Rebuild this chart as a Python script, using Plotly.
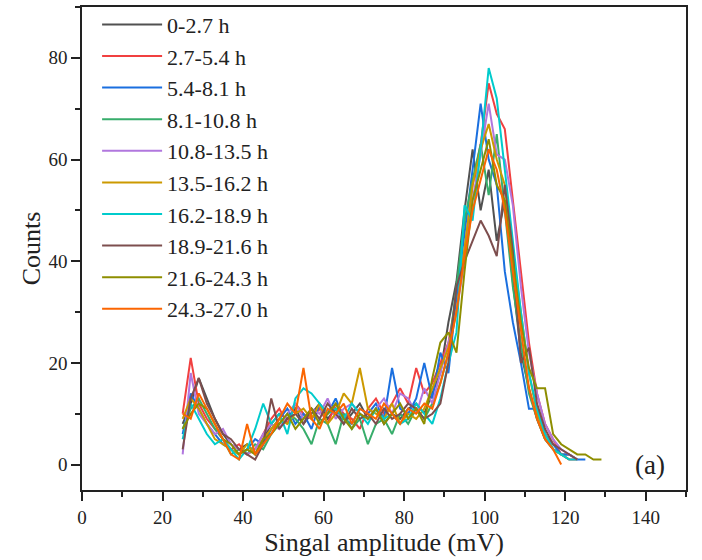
import plotly.graph_objects as go

X = [25 + 2 * i for i in range(53)]

labels = ["0-2.7 h", "2.7-5.4 h", "5.4-8.1 h", "8.1-10.8 h", "10.8-13.5 h",
          "13.5-16.2 h", "16.2-18.9 h", "18.9-21.6 h", "21.6-24.3 h", "24.3-27.0 h"]
colors = ["#515151", "#F14040", "#1A6FDF", "#37AD6B", "#B177DE",
          "#CC9900", "#00CBCC", "#7D4E4E", "#8E8E00", "#FB6501"]

s0 = [8, 12, 17, 13, 9, 6, 4, 3, 4, 2, 5, 8, 10, 9, 11, 8, 10, 12, 9, 11, 8, 10, 12, 9, 11, 8, 10, 9, 11, 12, 10, 14,
      18, 28, 36, 50, 62, 50, 58, 44, 52, 36, 22, 15, 9, 5, 3, 2, 2, 1]
s1 = [10, 21, 12, 9, 7, 5, 3, 4, 2, 3, 6, 9, 11, 8, 12, 10, 9, 11, 8, 12, 10, 9, 7, 11, 13, 10, 12, 15, 12, 19, 14, 16,
      20, 24, 33, 42, 55, 63, 75, 69, 66, 52, 38, 24, 14, 8, 5, 2, 1, 1]
s2 = [6, 14, 11, 8, 6, 4, 3, 2, 3, 5, 4, 7, 9, 11, 8, 10, 7, 12, 10, 13, 9, 8, 11, 10, 12, 9, 19, 11, 10, 13, 20, 13,
      22, 18, 33, 45, 58, 71, 60, 55, 38, 28, 20, 11, 11, 6, 4, 2, 2, 1, 1]
s3 = [7, 11, 13, 10, 7, 5, 2, 3, 2, 4, 3, 6, 8, 10, 9, 7, 4, 9, 8, 4, 10, 7, 9, 4, 8, 9, 6, 10, 8, 11, 9, 12,
      16, 22, 35, 48, 56, 63, 53, 65, 50, 35, 24, 14, 9, 5, 3, 2, 1]
s4 = [2, 18, 10, 8, 6, 7, 4, 3, 2, 3, 6, 8, 7, 10, 12, 9, 11, 10, 13, 9, 11, 12, 10, 9, 11, 13, 10, 14, 13, 10, 15, 12,
      18, 24, 30, 40, 52, 61, 71, 61, 60, 51, 35, 22, 14, 8, 5, 3, 2, 1]
s5 = [9, 13, 11, 8, 5, 4, 3, 2, 4, 2, 5, 7, 9, 8, 10, 11, 9, 12, 8, 10, 14, 12, 19, 11, 10, 9, 12, 8, 10, 9, 11, 15,
      19, 23, 30, 42, 55, 62, 67, 60, 55, 42, 30, 18, 10, 6, 3, 2, 1]
s6 = [5, 12, 9, 6, 4, 5, 3, 1, 3, 7, 12, 8, 10, 6, 13, 15, 14, 12, 10, 11, 9, 12, 10, 8, 11, 9, 10, 8, 9, 12, 10, 8,
      13, 20, 26, 51, 48, 62, 78, 72, 58, 44, 30, 18, 11, 6, 3, 2, 1, 1]
s7 = [3, 13, 17, 12, 9, 6, 5, 3, 2, 1, 4, 13, 7, 9, 10, 8, 11, 9, 12, 10, 8, 11, 9, 10, 8, 11, 9, 10, 12, 11, 9, 10,
      12, 20, 35, 40, 44, 48, 45, 41, 55, 42, 20, 23, 12, 7, 4, 3, 2, 1]
s8 = [7, 10, 12, 11, 8, 5, 4, 2, 3, 2, 5, 6, 8, 10, 7, 9, 11, 8, 10, 12, 9, 7, 10, 9, 11, 8, 10, 12, 9, 11, 8, 17,
      24, 26, 22, 38, 52, 58, 64, 55, 52, 40, 28, 19, 15, 15, 6, 4, 3, 2, 2, 1, 1]
s9 = [10, 9, 14, 11, 8, 5, 2, 1, 8, 2, 4, 6, 9, 12, 10, 19, 9, 7, 11, 10, 12, 8, 11, 10, 9, 12, 10, 8, 11, 10, 12, 11,
      16, 22, 30, 41, 50, 56, 62, 58, 50, 38, 26, 15, 9, 5, 3, 0]
series = [s0, s1, s2, s3, s4, s5, s6, s7, s8, s9]

FONT = "Liberation Serif, Times New Roman, serif"

fig = go.Figure()
for name, col, ys in zip(labels, colors, series):
    fig.add_trace(go.Scatter(x=X[:len(ys)], y=ys, mode="lines", name=name,
                             line=dict(color=col, width=2)))

axis_common = dict(showgrid=False, zeroline=False, showline=True, linecolor="#222",
                   linewidth=1.5, mirror=True, ticks="outside", ticklen=9, tickwidth=1.5,
                   tickcolor="#222", tickfont=dict(family=FONT, size=19, color="#222"),
                   minor=dict(ticks="outside", ticklen=5, tickwidth=1.5, tickcolor="#222"))

fig.update_layout(
    width=702, height=560,
    margin=dict(l=82, r=16, t=4, b=70),
    plot_bgcolor="white", paper_bgcolor="white",
    font=dict(family=FONT, color="#222"),
    showlegend=True,
    legend=dict(x=0.025, y=1.007, xanchor="left", yanchor="top",
                font=dict(family=FONT, size=22, color="#222"),
                bgcolor="rgba(0,0,0,0)", itemwidth=60, tracegroupgap=0,
                maxheight=520),
    xaxis=dict(range=[0, 150], tickvals=[0, 20, 40, 60, 80, 100, 120, 140],
               title=dict(text="Singal amplitude (mV)", font=dict(family=FONT, size=26), standoff=6),
               **axis_common),
    yaxis=dict(range=[-5, 90], tickvals=[0, 20, 40, 60, 80],
               title=dict(text="Counts", font=dict(family=FONT, size=26), standoff=0),
               **axis_common),
    annotations=[dict(x=141, y=0, xref="x", yref="y", text="(a)", showarrow=False,
                      font=dict(family=FONT, size=27, color="#222"))],
)
fig.update_xaxes(minor_dtick=10, minor_tick0=0)
fig.update_yaxes(minor_dtick=10, minor_tick0=0)

fig.write_html("out.html")
